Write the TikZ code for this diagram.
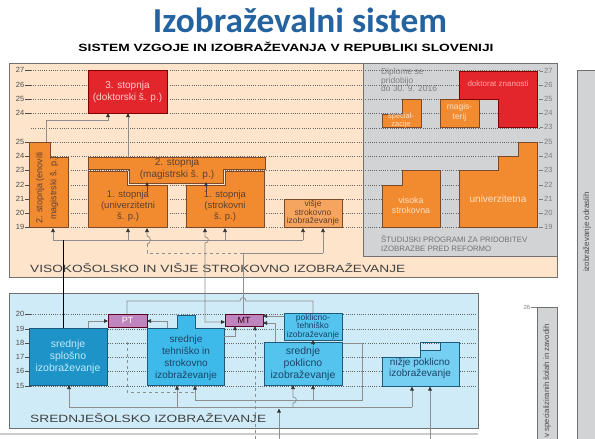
\documentclass[tikz,border=0pt]{standalone}
\usepackage{fontspec}
\usepackage{graphicx}
\setmainfont{Liberation Sans}
\newfontfamily\titlefont{Carlito}
\usetikzlibrary{arrows.meta}
\newcommand{\hfit}[2]{\resizebox{#1}{\height}{#2}}
\definecolor{peach}{HTML}{FDE4CB}
\definecolor{gpanel}{HTML}{D2D3D5}
\definecolor{orng}{HTML}{F28A30}
\definecolor{lorng}{HTML}{F5A560}
\definecolor{obrd}{HTML}{7A4A2A}
\definecolor{redb}{HTML}{E3262C}
\definecolor{bpanel}{HTML}{CFEBF8}
\definecolor{bdark}{HTML}{1D93C7}
\definecolor{bmid}{HTML}{3DBAEA}
\definecolor{blight}{HTML}{54C4EE}
\definecolor{blighter}{HTML}{74CFF2}
\definecolor{bbrd}{HTML}{1F5A7A}
\definecolor{purp}{HTML}{BE85BF}
\definecolor{titleblue}{HTML}{2463A0}
\definecolor{lgray}{HTML}{8E8E8E}
\definecolor{txtbrown}{HTML}{5E4030}
\definecolor{otxt}{HTML}{FFE2C6}
\definecolor{panelline}{HTML}{707070}
\definecolor{btxt}{HTML}{1E4466}
\tikzset{
 lvl/.style={draw=gray!80!black, line width=0.45pt, dash pattern=on 1pt off 1.2pt},
 tickl/.style={draw=gray!60!black, line width=0.6pt},
 num/.style={font=\fontsize{7.5}{8}\selectfont, text=black!70, inner sep=0.5pt},
 rnum/.style={font=\fontsize{7.5}{8}\selectfont, text=black!50, inner sep=0.5pt},
 obox/.style={fill=orng, draw=obrd, line width=0.6pt},
 bxt/.style={font=\fontsize{9.5}{11}\selectfont, align=center, inner sep=0},
 sxt/.style={font=\fontsize{8.5}{8.5}\selectfont, align=center, inner sep=0},
 conn/.style={draw=lgray, line width=0.75pt},
 >={Triangle[length=4pt,width=3.6pt,color=black!80]},
}
\begin{document}
\begin{tikzpicture}[x=1pt,y=-1pt]
\useasboundingbox (0,0) rectangle (595,439);
\fill[white] (0,0) rectangle (595,439);
% titles
\node[text=titleblue, inner sep=0] (title) at (300,20) {\hfit{294pt}{\titlefont\bfseries\fontsize{35}{36}\selectfont Izobraževalni sistem}};
\node[inner sep=0] (subtitle) at (286,47) {\hfit{415pt}{\bfseries\fontsize{10.5}{12}\selectfont SISTEM VZGOJE IN IZOBRAŽEVANJA V REPUBLIKI SLOVENIJI}};

% ---------- upper panel
\fill[peach] (9,63) rectangle (557,277);
\fill[gpanel] (363,63) rectangle (557,256);
\foreach \y in {70,85,99,113,128,142,156,170,185,199,213,227} \draw[lvl] (31,\y) -- (540,\y);
\draw[panelline, line width=0.7pt] (363,63) -- (363,256) -- (557,256);
\draw[panelline, line width=0.9pt] (9,63) rectangle (557,277);
\foreach \y/\n in {70/27,85/26,99/25,113/24,142/25,156/24,170/23,185/22,199/21,213/20,227/19}
  {\draw[tickl] (25,\y) -- (31,\y); \node[num, anchor=east] at (25,\y) {\n};}
\foreach \y/\n in {71/27,85/26,99/25,113/24,127/23,142/25,156/24,170/23,185/22,199/21,213/20,227/19}
  {\draw[draw=gray, line width=0.5pt] (540,\y) -- (543,\y); \node[rnum, anchor=west] at (543.5,\y) {\n};}

% left boxes
\node[fill=redb, draw=red!50!black, line width=0.6pt, minimum width=79pt, minimum height=43pt, inner sep=0, outer sep=0,
  font=\fontsize{10}{12}\selectfont, align=center, text=red!20!white] (dok) at (127.5,91.5) {3. stopnja\\(doktorski š. p.)};
\draw[obox] (29,142) -- (50,142) -- (50,157) -- (68,157) -- (68,227) -- (29,227) -- cycle;
\node[bxt, rotate=90, text=txtbrown, font=\fontsize{9}{14}\selectfont] (enov) at (47,188) {2. stopnja (enoviti\\magistrski š. p.)};
\draw[obox] (88,157) -- (265,157) -- (265,169) -- (223,169) -- (223,183) -- (129,183) -- (129,169) -- (88,169) -- cycle;
\node[bxt, text=txtbrown, font=\fontsize{10}{12}\selectfont] (mag) at (177,169) {2. stopnja\\(magistrski š. p.)};
\draw[obox] (88,171) -- (127,171) -- (127,185) -- (167,185) -- (167,227) -- (88,227) -- cycle;
\node[bxt, text=txtbrown] (uni) at (128,206) {1. stopnja\\(univerzitetni\\š. p.)};
\draw[obox] (186,185) -- (225,185) -- (225,171) -- (264,171) -- (264,227) -- (186,227) -- cycle;
\node[bxt, text=txtbrown] (str) at (225,206) {1. stopnja\\(strokovni\\š. p.)};
\node[fill=lorng, draw=obrd, line width=0.6pt, minimum width=58pt, minimum height=28pt, inner sep=0, outer sep=0,
  font=\fontsize{8.5}{8.5}\selectfont, align=center, text=txtbrown] (visje) at (313,213) {višje\\strokovno\\izobraževanje};

% gray panel content
\node[anchor=north west, align=left, inner sep=0, font=\fontsize{8.5}{8.5}\selectfont, text=black!50] (dipl) at (381,68.5) {Diplome se\\pridobijo\\do 30. 9. 2016};
\draw[obox] (382,114) -- (402,114) -- (402,99) -- (421,99) -- (421,127) -- (382,127) -- cycle;
\node[sxt, text=otxt, font=\fontsize{7.5}{8}\selectfont] (spec) at (401,120.5) {special-\\zacije};
\draw[obox] (440,99) rectangle (479,127);
\node[sxt, text=otxt, font=\fontsize{8.5}{10}\selectfont] (magist) at (459.5,112) {magis-\\terij};
\draw[fill=redb, draw=red!50!black, line width=0.6pt] (459,71) -- (537,71) -- (537,127) -- (498,127) -- (498,99) -- (459,99) -- cycle;
\node[sxt, text=red!35!white, font=\fontsize{8}{9}\selectfont] (dokz) at (498,84) {doktorat znanosti};
\draw[obox] (382,185) -- (402,185) -- (402,170) -- (440,170) -- (440,227) -- (382,227) -- cycle;
\node[sxt, text=otxt, font=\fontsize{8.8}{10}\selectfont] (visok) at (411,205) {visoka\\strokovna};
\draw[obox] (459,170) -- (498,170) -- (498,156) -- (518,156) -- (518,142) -- (537,142) -- (537,227) -- (459,227) -- cycle;
\node[sxt, text=otxt, font=\fontsize{10}{10}\selectfont] (univ) at (498,199) {univerzitetna};
\node[anchor=north west, align=left, inner sep=0, font=\fontsize{7.8}{9}\selectfont, text=black!55] (stud) at (381,235.5) {ŠTUDIJSKI PROGRAMI ZA PRIDOBITEV\\IZOBRAZBE PRED REFORMO};

\node[anchor=west, inner sep=0, text=black!75] (vislabel) at (30,268) {\hfit{375pt}{\fontsize{10.5}{12}\selectfont VISOKOŠOLSKO IN VIŠJE STROKOVNO IZOBRAŽEVANJE}};

% upper connectors
\draw[conn, ->] (46,142) -- (46,120) -- (108,120) -- (108,0 |- dok.south);
\draw[conn, ->] (128,157) -- (128,0 |- dok.south);
\draw[draw=txtbrown, line width=0.7pt, ->] (147,192) -- (147,182);
\draw[draw=txtbrown, line width=0.7pt, ->] (206,192) -- (206,182);
\draw[conn, ->] (53,240) -- (53,228);
\draw[conn] (53,240) -- (303,240);
\draw[conn, ->] (128,240) -- (128,228);
\draw[conn, ->] (225,240) -- (225,228);
\draw[conn, ->] (303,240) -- (303,228);
\draw[conn, ->] (323,253) -- (323,228);

% ---------- lower panel
\fill[bpanel] (9,293) rectangle (478,428);
\foreach \y in {314,329,343,357,371,386} \draw[lvl] (31,\y) -- (476,\y);
\draw[panelline, line width=0.9pt] (9,293) rectangle (478,428);
\foreach \y/\n in {314/20,329/19,343/18,357/17,371/16,386/15}
  {\draw[tickl] (25,\y) -- (31,\y); \node[num, anchor=east] at (25,\y) {\n};}
\draw[gray!40, line width=1.5pt] (0,434) -- (478,434);

\node[fill=bdark, draw=bbrd, line width=0.6pt, minimum width=78pt, minimum height=57pt, inner sep=0, outer sep=0,
  font=\fontsize{10.5}{12}\selectfont, align=center, text=cyan!25!white] (splo) at (68,356.5) {srednje\\splošno\\izobraževanje};
\node[fill=purp, draw=purple!50!black, line width=0.6pt, minimum width=39pt, minimum height=13pt, inner sep=0, outer sep=0,
  font=\fontsize{9}{9}\selectfont, text=white] (pt) at (127.5,320.5) {PT};
\draw[fill=bmid, draw=bbrd, line width=0.6pt] (147,328) -- (177,328) -- (177,315) -- (195,315) -- (195,328) -- (224,328) -- (224,385) -- (147,385) -- cycle;
\node[bxt, text=btxt, font=\fontsize{10}{12}\selectfont] (teh) at (186,358) {srednje\\tehniško in\\strokovno\\izobraževanje};
\node[fill=purp, draw=purple!50!black, line width=0.6pt, minimum width=38pt, minimum height=12pt, inner sep=0, outer sep=0,
  font=\fontsize{9}{9}\selectfont, text=purple!30!black] (mt) at (244,320) {MT};
\node[fill=blight, draw=bbrd, line width=0.6pt, minimum width=58pt, minimum height=27pt, inner sep=0, outer sep=0,
  font=\fontsize{8.5}{8.5}\selectfont, align=center, text=btxt] (pth) at (313,326.5) {poklicno-\\tehniško\\izobraževanje};
\node[fill=blight, draw=bbrd, line width=0.6pt, minimum width=78pt, minimum height=43pt, inner sep=0, outer sep=0,
  font=\fontsize{10.5}{12}\selectfont, align=center, text=btxt] (spk) at (303,363.5) {srednje\\poklicno\\izobraževanje};
\draw[fill=blighter, draw=bbrd, line width=0.6pt] (382,357) -- (420,357) -- (420,350) -- (440,350) -- (440,342) -- (459,342) -- (459,386) -- (382,386) -- cycle;
\draw[draw=bbrd, line width=0.6pt] (420,350) -- (420,342) -- (440,342);
\node[bxt, text=btxt, font=\fontsize{10}{10.5}\selectfont] (niz) at (420,368.5) {nižje poklicno\\izobraževanje};

\node[anchor=west, inner sep=0, text=black!75] (srlabel) at (30,418) {\hfit{236pt}{\fontsize{10.5}{12}\selectfont SREDNJEŠOLSKO IZOBRAŽEVANJE}};

% lower connectors
\draw[conn, ->] (88,0 |- splo.north) -- (88,321) -- (pt.west |- 0,321);
\draw[conn, ->] (167,328) -- (167,321) -- (pt.east |- 0,321);
\draw[conn] (313,0 |- pth.north) -- (313,301) -- (246,301) .. controls (246,296.5) and (240,296.5) .. (240,301) -- (127,301) -- (127,0 |- pt.north);
\draw[conn, <->] (mt.west |- 0,322) -- (205,322) -- (205,243) .. controls (209.5,243) and (209.5,237) .. (205,237) -- (205,228);
\draw[conn] (243,0 |- mt.north) -- (243,253) -- (323,253);
\draw[conn, dashed] (243,253) -- (147,253) -- (147,244);
\draw[conn, ->] (147,244) .. controls (151.5,244) and (151.5,236) .. (147,236) -- (147,228);
\draw[black, line width=0.9pt] (63,0 |- splo.north) -- (63,240);
\draw[conn, ->] (pth.west |- 0,316) -- (mt.east |- 0,316);
\draw[conn, ->] (275,0 |- spk.north) -- (275,323) -- (mt.east |- 0,323);
\draw[conn, ->] (224,336) -- (235,336) -- (235,0 |- mt.south);
\draw[conn, dashed, ->] (255,439) -- (255,0 |- mt.south);
\draw[draw=btxt, line width=0.7pt, ->] (313,345) -- (313,0 |- pth.south);
\draw[conn, dashed] (127,342) -- (127,392) -- (195,392);
% buses
\draw[conn, ->] (69,407) -- (69,0 |- splo.south);
\draw[conn] (69,407) -- (412,407);
\draw[conn, ->] (412,407) -- (412,386.5);
\draw[conn, ->] (177,407) -- (177,385.5);
\draw[conn, ->] (293,407) -- (293,403) .. controls (297.5,403) and (297.5,397) .. (293,397) -- (293,0 |- spk.south);
\draw[conn, ->] (195,400) -- (195,385.5);
\draw[conn] (195,400) -- (362,400) -- (362,343) -- (343,343);
\draw[conn, ->] (313,400) -- (313,0 |- spk.south);
\draw[conn, ->] (279,439) -- (279,408.5);
\draw[conn, ->] (430,439) -- (430,386.5);

% right bars
\fill[gpanel] (577,70) rectangle (595,439);
\draw[panelline, line width=0.7pt] (577,439) -- (577,70) -- (595,70);
\node[rotate=90, inner sep=0, font=\fontsize{8}{9}\selectfont, text=black!70] (odr) at (587,232) {izobraževanje odraslih};
\fill[gpanel] (537,307) rectangle (557,439);
\draw[panelline, line width=0.7pt] (537,439) -- (537,307) -- (557,307) -- (557,439);
\node[rotate=90, inner sep=0, font=\fontsize{7.8}{9}\selectfont, text=black!70] (spz) at (547,381) {v specializiranih šolah in zavodih};
\draw[gray, line width=0.5pt] (531,307) -- (537,307);
\node[rnum, anchor=east, font=\fontsize{6}{7}\selectfont] (n26) at (531,307) {26};
\end{tikzpicture}
\end{document}
